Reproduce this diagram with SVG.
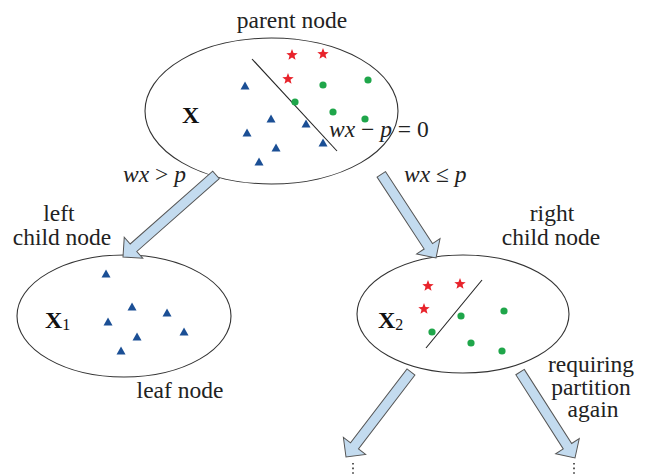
<svg xmlns="http://www.w3.org/2000/svg" xmlns:xlink="http://www.w3.org/1999/xlink" width="651" height="476" viewBox="0 0 651 476">
<style>
.node{fill:#fff;stroke:#333;stroke-width:1.1}
.sep{stroke:#222;stroke-width:1.1}
.arr{fill:#c3dbef;stroke:#555;stroke-width:1}
.lbl{font-family:"Liberation Serif","Times New Roman",serif;font-size:23.5px;fill:#222}
.math{font-family:"Liberation Serif","Times New Roman",serif;font-size:23.5px;font-style:italic;fill:#222}
.bold{font-family:"Liberation Serif","Times New Roman",serif;font-size:24px;font-weight:bold;fill:#111}
.sub{font-family:"Liberation Serif","Times New Roman",serif;font-size:16px;fill:#111}
.tri{fill:#1b4f95}
.dot{fill:#1fa64a}
.star{fill:#e8232b}
.dots{stroke:#333;stroke-width:1.6;stroke-dasharray:1.6 3}
</style>
<defs>
<path id="tri" class="tri" d="M0,-4.5 L4.5,3.5 L-4.5,3.5 Z"/>
<circle id="dot" class="dot" r="3.6"/>
<path id="star" class="star" d="M0,-6 L1.53,-2.1 L5.71,-1.85 L2.47,0.8 L3.53,4.85 L0,2.6 L-3.53,4.85 L-2.47,0.8 L-5.71,-1.85 L-1.53,-2.1 Z"/>
</defs>

<g id="parent">
<ellipse class="node" cx="271.5" cy="111" rx="126.5" ry="73"/>
<line class="sep" x1="252" y1="59" x2="337" y2="151"/>
<use xlink:href="#star" x="292" y="55"/>
<use xlink:href="#star" x="323" y="54"/>
<use xlink:href="#star" x="288" y="79"/>
<use xlink:href="#dot" x="323" y="85"/>
<use xlink:href="#dot" x="368" y="80"/>
<use xlink:href="#dot" x="295" y="102"/>
<use xlink:href="#dot" x="333" y="112"/>
<use xlink:href="#dot" x="365" y="119"/>
<use xlink:href="#tri" x="245" y="86"/>
<use xlink:href="#tri" x="271" y="119"/>
<use xlink:href="#tri" x="306" y="124"/>
<use xlink:href="#tri" x="247" y="133"/>
<use xlink:href="#tri" x="276" y="148"/>
<use xlink:href="#tri" x="323" y="143"/>
<use xlink:href="#tri" x="259" y="162"/>
<text class="bold" x="182" y="123">X</text>
<text class="math" x="329" y="137">wx <tspan font-style="normal">−</tspan> p <tspan font-style="normal">= 0</tspan></text>
<text class="lbl" x="292" y="28" text-anchor="middle">parent node</text>
</g>

<g id="left_child">
<ellipse class="node" cx="124" cy="316" rx="107" ry="61"/>
<use xlink:href="#tri" x="106" y="274"/>
<use xlink:href="#tri" x="132" y="307"/>
<use xlink:href="#tri" x="167" y="313"/>
<use xlink:href="#tri" x="108" y="322"/>
<use xlink:href="#tri" x="137" y="337"/>
<use xlink:href="#tri" x="184" y="332"/>
<use xlink:href="#tri" x="121" y="351"/>
<text class="bold" x="45" y="328">X<tspan class="sub" font-weight="normal" dy="2">1</tspan></text>
<text class="lbl" x="59" y="221" text-anchor="middle">left</text>
<text class="lbl" x="62" y="245" text-anchor="middle">child node</text>
<text class="lbl" x="180" y="398" text-anchor="middle">leaf node</text>
</g>

<g id="right_child">
<ellipse class="node" cx="463" cy="314" rx="106" ry="59"/>
<line class="sep" x1="482" y1="280" x2="426" y2="348"/>
<use xlink:href="#star" x="428" y="286"/>
<use xlink:href="#star" x="460" y="284"/>
<use xlink:href="#star" x="424" y="309"/>
<use xlink:href="#dot" x="461" y="316"/>
<use xlink:href="#dot" x="504" y="311"/>
<use xlink:href="#dot" x="432" y="332"/>
<use xlink:href="#dot" x="471" y="343"/>
<use xlink:href="#dot" x="502" y="351"/>
<text class="bold" x="378" y="328">X<tspan class="sub" font-weight="normal" dy="2">2</tspan></text>
<text class="lbl" x="552" y="221" text-anchor="middle">right</text>
<text class="lbl" x="551" y="245" text-anchor="middle">child node</text>
<text class="lbl" x="591" y="372" text-anchor="middle">requiring</text>
<text class="lbl" x="591" y="395" text-anchor="middle">partition</text>
<text class="lbl" x="593" y="417" text-anchor="middle">again</text>
</g>

<g id="connectors">
<path class="arr" transform="translate(123,257) rotate(138.6)" d="M-124,-5 L-14,-5 L-14,-14 L0,0 L-14,14 L-14,5 L-124,5 Z"/>
<path class="arr" transform="translate(436,258) rotate(56.8)" d="M-100,-5 L-14,-5 L-14,-14 L0,0 L-14,14 L-14,5 L-100,5 Z"/>
<path class="arr" transform="translate(346,457) rotate(127.4)" d="M-107,-5 L-14,-5 L-14,-14 L0,0 L-14,14 L-14,5 L-107,5 Z"/>
<path class="arr" transform="translate(575,458) rotate(57.4)" d="M-102,-5 L-14,-5 L-14,-14 L0,0 L-14,14 L-14,5 L-102,5 Z"/>
<text class="math" x="123" y="182">wx <tspan font-style="normal">&gt;</tspan> p</text>
<text class="math" x="404" y="182">wx <tspan font-style="normal">≤</tspan> p</text>
<line class="dots" x1="353" y1="463" x2="353" y2="476"/>
<line class="dots" x1="574" y1="463" x2="574" y2="476"/>
</g>
</svg>
